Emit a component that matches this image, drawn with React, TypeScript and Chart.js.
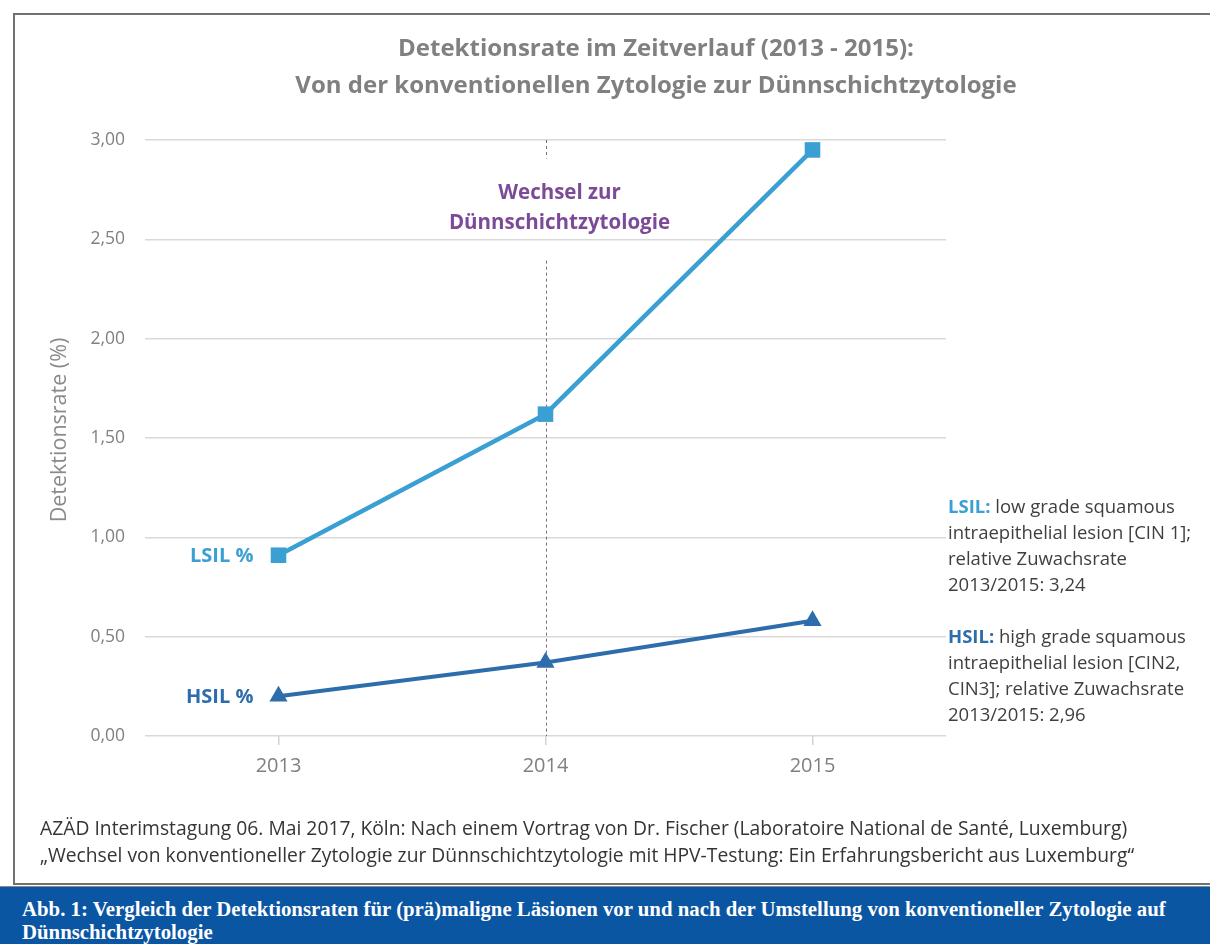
import React, { useEffect, useRef } from 'react';
import { Chart, registerables } from 'chart.js';

Chart.register(...registerables);

// ---------- data ----------
const years = ['2013', '2014', '2015'];
const lsilValues = [0.91, 1.62, 2.95];
const hsilValues = [0.2, 0.37, 0.58];
const yMin = 0;
const yMax = 3;
const yStep = 0.5;
const switchIndex = 1;
const switchLabelValue = 2.73;
const switchLabel = ['Wechsel zur', 'Dünnschichtzytologie'];
const seriesLabels = ['LSIL %', 'HSIL %'];
const titleLines = [
  'Detektionsrate im Zeitverlauf (2013 - 2015):',
  'Von der konventionellen Zytologie zur Dünnschichtzytologie',
];
const yTitle = 'Detektionsrate (%)';
const lsilNoteHead = 'LSIL:';
const lsilNoteLines = [
  ' low grade squamous',
  'intraepithelial lesion [CIN 1];',
  'relative Zuwachsrate',
  '2013/2015: 3,24',
];
const hsilNoteHead = 'HSIL:';
const hsilNoteLines = [
  ' high grade squamous',
  'intraepithelial lesion [CIN2,',
  'CIN3]; relative Zuwachsrate',
  '2013/2015: 2,96',
];
const sourceLines = [
  'AZÄD Interimstagung 06. Mai 2017, Köln: Nach einem Vortrag von Dr. Fischer (Laboratoire National de Santé, Luxemburg)',
  '„Wechsel von konventioneller Zytologie zur Dünnschichtzytologie mit HPV-Testung: Ein Erfahrungsbericht aus Luxemburg“',
];
const captionLines = [
  'Abb. 1: Vergleich der Detektionsraten für (prä)maligne Läsionen vor und nach der Umstellung von konventioneller Zytologie auf',
  'Dünnschichtzytologie',
];

// ---------- style ----------
const SANS = '"Open Sans", "Noto Sans", sans-serif';
const LSIL_COLOR = '#3a9fd3';
const HSIL_COLOR = '#2e6dab';
const PURPLE = '#7d4a98';
const GRAY_TEXT = '#808080';
const NOTE_TEXT = '#3f3f3f';

const overlayPlugin = {
  id: 'overlayPlugin',
  beforeDatasetsDraw(chart: any) {
    const { ctx, chartArea, scales } = chart;
    const x = Math.round(scales.x.getPixelForValue(switchIndex)) + 0.5;
    const y1 = scales.y.getPixelForValue(switchLabelValue);
    const y2 = y1 + 30;
    ctx.save();
    ctx.strokeStyle = '#7a6887';
    ctx.lineWidth = 1;
    ctx.setLineDash([3, 3]);
    ctx.beginPath();
    ctx.moveTo(x, chartArea.top);
    ctx.lineTo(x, y1 - 35);
    ctx.moveTo(x, y2 + 37);
    ctx.lineTo(x, chartArea.bottom);
    ctx.stroke();
    ctx.setLineDash([]);
    ctx.fillStyle = PURPLE;
    ctx.font = `bold 20.5px ${SANS}`;
    ctx.textAlign = 'center';
    ctx.textBaseline = 'middle';
    ctx.fillText(switchLabel[0], x + 13, y1);
    ctx.fillText(switchLabel[1], x + 13, y2);
    ctx.restore();
  },
  afterDatasetsDraw(chart: any) {
    const { ctx } = chart;
    ctx.save();
    ctx.font = `bold 20px ${SANS}`;
    ctx.textAlign = 'right';
    ctx.textBaseline = 'middle';
    const colors = [LSIL_COLOR, HSIL_COLOR];
    chart.data.datasets.forEach((_: any, i: number) => {
      const pt = chart.getDatasetMeta(i).data[0];
      ctx.fillStyle = colors[i];
      ctx.fillText(seriesLabels[i], pt.x - 25, pt.y + 1);
    });
    ctx.restore();
  },
};

function ChartCanvas() {
  const ref = useRef<HTMLCanvasElement | null>(null);
  useEffect(() => {
    if (!ref.current) return;
    const chart = new Chart(ref.current, {
      type: 'line',
      data: {
        labels: years,
        datasets: [
          {
            label: 'LSIL %',
            data: lsilValues,
            borderColor: LSIL_COLOR,
            backgroundColor: LSIL_COLOR,
            borderWidth: 4.5,
            pointStyle: 'rect',
            pointRadius: 11,
            pointHoverRadius: 11,
            pointBorderWidth: 0,
            pointBackgroundColor: LSIL_COLOR,
            tension: 0,
          },
          {
            label: 'HSIL %',
            data: hsilValues,
            borderColor: HSIL_COLOR,
            backgroundColor: HSIL_COLOR,
            borderWidth: 4,
            pointStyle: 'triangle',
            pointRadius: 10.5,
            pointHoverRadius: 10.5,
            pointBorderWidth: 0,
            pointBackgroundColor: HSIL_COLOR,
            tension: 0,
          },
        ],
      },
      options: {
        responsive: false,
        animation: false,
        devicePixelRatio: 1,
        layout: { padding: { left: 0, top: 140, right: 264, bottom: 0 } },
        plugins: {
          legend: { display: false },
          title: { display: false },
          tooltip: { enabled: false },
        },
        scales: {
          x: {
            offset: true,
            grid: {
              offset: false,
              drawOnChartArea: false,
              drawTicks: true,
              tickLength: 9,
              color: '#d4d4d4',
              lineWidth: 1.5,
            },
            border: { display: false },
            ticks: {
              color: GRAY_TEXT,
              font: { family: SANS, size: 20 },
              padding: 9,
            },
            afterFit: (s: any) => {
              s.height = 208;
            },
          },
          y: {
            min: yMin,
            max: yMax,
            grid: {
              color: '#d9d9d9',
              lineWidth: 1.5,
              drawTicks: false,
            },
            border: { display: false },
            ticks: {
              stepSize: yStep,
              color: GRAY_TEXT,
              font: { family: SANS, size: 17.5 },
              padding: 20,
              callback: (v: any) => Number(v).toFixed(2).replace('.', ','),
            },
            afterFit: (s: any) => {
              s.width = 145;
            },
          },
        },
      },
      plugins: [overlayPlugin],
    });
    return () => chart.destroy();
  }, []);
  return (
    <canvas
      ref={ref}
      width={1210}
      height={944}
      style={{ position: 'absolute', left: 0, top: 0, width: 1210, height: 944 }}
    />
  );
}

export default function App() {
  const noteStyle: React.CSSProperties = {
    position: 'absolute',
    left: 948,
    fontFamily: SANS,
    fontSize: 18.5,
    lineHeight: '26px',
    color: NOTE_TEXT,
    whiteSpace: 'nowrap',
  };
  return (
    <div style={{ position: 'relative', width: 1210, height: 944, overflow: 'hidden', background: '#fff' }}>
      <style>{'html,body{margin:0;padding:0;background:#fff;}'}</style>
      <div
        style={{
          position: 'absolute',
          left: 13,
          top: 13,
          width: 1240,
          height: 872,
          border: '2px solid #717171',
          boxSizing: 'border-box',
        }}
      />
      <ChartCanvas />
      {titleLines.map((t, i) => (
        <div
          key={t}
          style={{
            position: 'absolute',
            left: 156,
            width: 1000,
            top: 47 + i * 37 - 16,
            height: 32,
            lineHeight: '32px',
            textAlign: 'center',
            fontFamily: SANS,
            fontWeight: 700,
            fontSize: 24,
            color: GRAY_TEXT,
            whiteSpace: 'nowrap',
          }}
        >
          {t}
        </div>
      ))}
      <div
        style={{
          position: 'absolute',
          left: 58 - 150,
          top: 430 - 15,
          width: 300,
          height: 30,
          lineHeight: '30px',
          textAlign: 'center',
          transform: 'rotate(-90deg)',
          fontFamily: SANS,
          fontSize: 21.5,
          color: '#8a8a8a',
          whiteSpace: 'nowrap',
        }}
      >
        {yTitle}
      </div>
      <div style={{ ...noteStyle, top: 506 - 13 }}>
        <span style={{ color: LSIL_COLOR, fontWeight: 700 }}>{lsilNoteHead}</span>
        {lsilNoteLines[0]}
        {lsilNoteLines.slice(1).map((l) => (
          <div key={l}>{l}</div>
        ))}
      </div>
      <div style={{ ...noteStyle, top: 636 - 13 }}>
        <span style={{ color: HSIL_COLOR, fontWeight: 700 }}>{hsilNoteHead}</span>
        {hsilNoteLines[0]}
        {hsilNoteLines.slice(1).map((l) => (
          <div key={l}>{l}</div>
        ))}
      </div>
      {sourceLines.map((t, i) => (
        <div
          key={t}
          style={{
            position: 'absolute',
            left: 40,
            top: 828 + i * 27 - 13,
            height: 26,
            lineHeight: '26px',
            fontFamily: SANS,
            fontSize: 19.3,
            color: '#353535',
            whiteSpace: 'nowrap',
          }}
        >
          {t}
        </div>
      ))}
      <div
        style={{
          position: 'absolute',
          left: 0,
          top: 886,
          width: 1210,
          height: 58,
          background: '#0a56a3',
          borderTop: '1px solid #8a8a8a',
          boxSizing: 'border-box',
        }}
      >
        {captionLines.map((t, i) => (
          <div
            key={t}
            style={{
              position: 'absolute',
              left: 22,
              top: 22 + i * 23 - 12,
              height: 24,
              lineHeight: '24px',
              fontFamily: '"Liberation Serif", "Times New Roman", serif',
              fontWeight: 700,
              fontSize: 20.8,
              color: '#fff',
              whiteSpace: 'nowrap',
            }}
          >
            {t}
          </div>
        ))}
      </div>
    </div>
  );
}
